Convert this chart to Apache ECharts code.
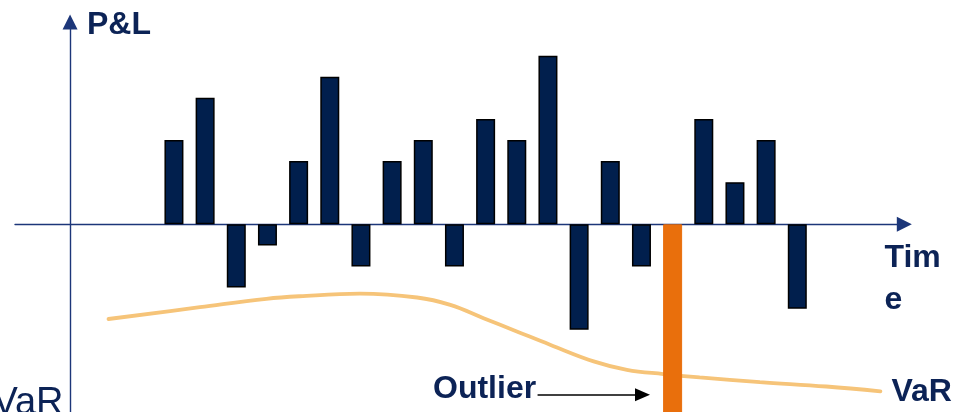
<!DOCTYPE html>
<html>
<head>
<meta charset="utf-8">
<script src="https://cdn.jsdelivr.net/npm/echarts@6/dist/echarts.min.js"></script>
<style>
  html, body { margin: 0; padding: 0; background: #ffffff; }
  #chart { width: 964px; height: 412px; }
</style>
</head>
<body>
<div id="chart"></div>
<script>
// Daily P&L observations (time in days) and the VaR threshold curve.
const times = [10, 13, 16, 19, 22, 25, 28, 31, 34, 37, 40, 43, 46, 49, 52, 55, 58, 61, 64, 67, 70];
const pnl = [4, 6, -3, -1, 3, 7, -2, 3, 4, -2, 5, 4, 8, -5, 3, -2, -10, 5, 2, 4, -4];
const outlierIndex = 16;

const varTimes = [3.7, 12.5, 18.9, 22.1, 27.9, 33.4, 36.6, 39.8, 43.0, 46.2, 50.4, 53.6, 57.1, 60.6, 66.4, 72.8, 78.0];
const varValues = [-4.49, -3.93, -3.53, -3.41, -3.29, -3.47, -3.82, -4.45, -5.08, -5.71, -6.50, -6.90, -7.10, -7.26, -7.48, -7.69, -7.92];

// Arrow from the "Outlier" note to the breaching bar.
const outlierArrow = { from: [45.0, -8.08], to: [55.1, -8.08] };

const NAVY = '#0c2356';
const BAR = '#011f4d';
const ORANGE = '#e96f0c';
const VAR_LINE = '#f6c479';
const FONT = "'Liberation Sans', Arial, sans-serif";

const barData = times.map((t, i) => {
  if (i === outlierIndex) {
    return { value: [t, pnl[i]], itemStyle: { color: ORANGE, borderColor: ORANGE, borderWidth: 1 } };
  }
  return [t, pnl[i]];
});

const chart = echarts.init(document.getElementById('chart'), null, { renderer: 'canvas' });

const axisLine = (show) => ({
  show: show,
  onZero: true,
  symbol: ['none', 'triangle'],
  symbolSize: [15, 15],
  lineStyle: { color: '#1c3679', width: 1.4 }
});

chart.setOption({
  animation: false,
  backgroundColor: '#ffffff',
  grid: { left: 15, right: 59.7, top: 21.9, bottom: 0 },
  xAxis: {
    type: 'value',
    min: -5.3,
    max: 80.3,
    axisLine: axisLine(true),
    axisTick: { show: false },
    axisLabel: { show: false },
    splitLine: { show: false }
  },
  yAxis: {
    type: 'value',
    min: -8.9,
    max: 9.6,
    axisLine: axisLine(true),
    axisTick: { show: false },
    axisLabel: { show: false },
    splitLine: { show: false }
  },
  series: [
    {
      name: 'VaR',
      type: 'line',
      z: 1,
      data: varTimes.map((t, i) => [t, varValues[i]]),
      smooth: 0.4,
      symbol: 'none',
      lineStyle: { color: VAR_LINE, width: 3.8, cap: 'round' },
      endLabel: {
        show: true,
        formatter: 'VaR',
        distance: 11,
        offset: [0, 1],
        color: NAVY,
        fontFamily: FONT,
        fontWeight: 'bold',
        fontSize: 32
      }
    },
    {
      name: 'P&L',
      type: 'bar',
      z: 3,
      barWidth: 19,
      data: barData,
      itemStyle: { color: BAR, borderColor: '#000000', borderWidth: 1.5 },
      markLine: {
        silent: true,
        symbol: ['none', 'triangle'],
        symbolSize: [13, 15],
        label: { show: false },
        lineStyle: { color: '#000000', width: 1.5, type: 'solid' },
        data: [[{ coord: outlierArrow.from }, { coord: outlierArrow.to }]]
      }
    }
  ],
  graphic: [
    {
      type: 'text', x: 87, y: 25,
      style: { text: 'P&L', fill: NAVY, font: 'bold 32px ' + FONT, verticalAlign: 'middle', align: 'left' }
    },
    {
      type: 'text', x: 884.5, y: 279,
      style: { text: 'Tim\ne', fill: NAVY, font: 'bold 32px ' + FONT, lineHeight: 42, verticalAlign: 'middle', align: 'left' }
    },
    {
      type: 'text', x: 433, y: 389,
      style: { text: 'Outlier', fill: NAVY, font: 'bold 32px ' + FONT, verticalAlign: 'middle', align: 'left' }
    },
    {
      type: 'text', x: 63.5, y: 404,
      style: { text: 'VaR', fill: NAVY, font: '38px ' + FONT, verticalAlign: 'middle', align: 'right' }
    }
  ]
});
</script>
</body>
</html>
